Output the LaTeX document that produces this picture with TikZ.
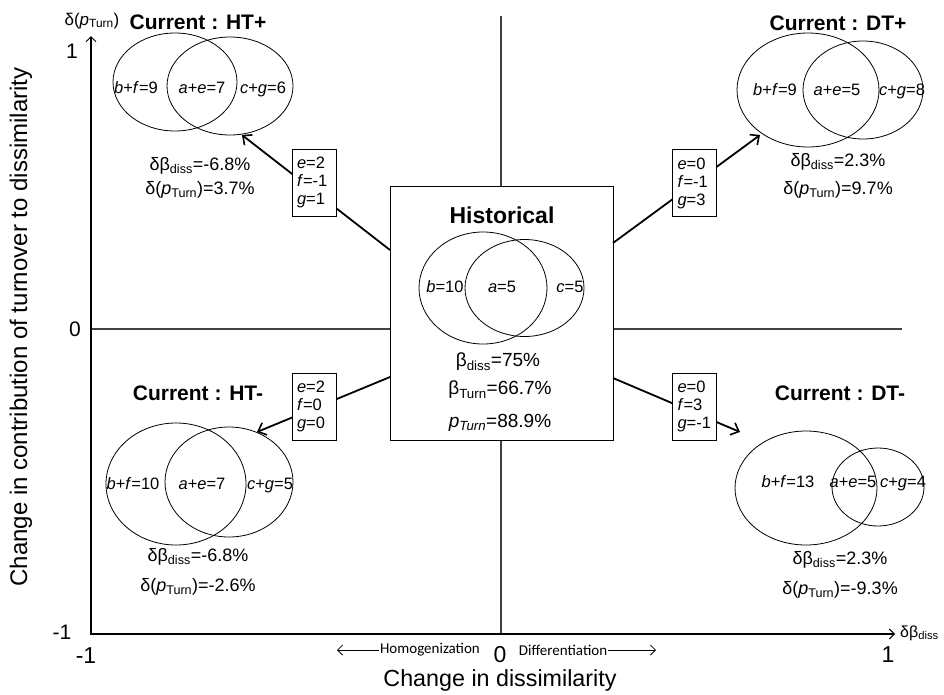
\documentclass[tikz,border=0pt]{standalone}
\usepackage{fontspec}
\setmainfont{Liberation Sans}
\newfontfamily\calib{Carlito}
\usetikzlibrary{shapes.geometric,arrows.meta}
\begin{document}
\begin{tikzpicture}[x=1pt,y=-1pt,
  venn/.style={draw, ellipse, line width=0.8pt, inner sep=0pt},
  vl/.style={font=\fontsize{16.5}{16.5}\selectfont, inner sep=0pt, text height=11.5pt, text depth=3.5pt},
  ttl/.style={font=\fontsize{21}{21}\selectfont\bfseries, inner sep=0pt},
  stat/.style={font=\fontsize{18}{18}\selectfont, inner sep=0pt},
  tick/.style={font=\fontsize{21}{21}\selectfont, inner sep=0pt},
  lbox/.style={draw, fill=white, line width=0.8pt, minimum height=67pt, text width=34pt, inner xsep=5pt, inner ysep=0pt, font=\fontsize{16.5}{18}\selectfont, align=left},
  conn/.style={line width=1.8pt, -{Straight Barb[length=7pt,width=13pt,line width=1.6pt]}},
  axis/.style={line width=1.3pt},
  midl/.style={line width=1.3pt, black!75},
  smallarr/.style={line width=0.8pt, -{Straight Barb[length=5pt,width=10pt,line width=0.8pt]}}
]
\useasboundingbox (0,0) rectangle (944,694);
% mid lines
\coordinate (mL) at (91,329);
\coordinate (mR) at (902,329);
\coordinate (mT) at (501,16);
\coordinate (mB) at (501,634);
\draw[midl] (mL) -- (mR);
\draw[midl] (mT) -- (mB);
% axes
\coordinate (yTop) at (91,36);
\coordinate (orig) at (91,634);
\coordinate (xEnd) at (895,634);
\draw[axis, {Straight Barb[length=5pt,width=10pt,line width=1pt]}-{Straight Barb[length=5pt,width=10pt,line width=1pt]}] (yTop) -- (orig) -- (xEnd);
% axis labels
\node[font=\fontsize{17}{17}\selectfont, inner sep=0pt] (ytitle) at (92,21) {δ(\textit{p}\textsubscript{Turn})};
\node[font=\fontsize{16}{16}\selectfont, inner sep=0pt, anchor=west] (xtitle) at (900,633) {δβ\textsubscript{diss}};
\node[tick] (y1) at (72,51) {1};
\node[tick] (y0) at (75,329) {0};
\node[tick] (ym1) at (62,632) {-1};
\node[tick, font=\fontsize{23}{23}\selectfont] (xm1) at (86,656) {-1};
\node[tick, font=\fontsize{23}{23}\selectfont] (x0) at (500,655) {0};
\node[tick, font=\fontsize{23}{23}\selectfont] (x1) at (888,655) {1};
\node[font=\fontsize{23.3}{23.3}\selectfont, inner sep=0pt] (xlab) at (500,680) {Change in dissimilarity};
\node[font=\fontsize{24}{24}\selectfont, inner sep=0pt, rotate=90] (ylab) at (21,327) {Change in contribution of turnover to dissimilarity};
\node[font=\calib\fontsize{15}{15}\selectfont, inner sep=1pt] (homog) at (430,650) {Homogenization};
\node[font=\calib\fontsize{15}{15}\selectfont, inner sep=1pt] (diff) at (563,650) {Differentiation};
\coordinate (homogEnd) at (337,650);
\coordinate (diffEnd) at (656,650);
\draw[smallarr] (homog) -- (homogEnd);
\draw[smallarr] (diff) -- (diffEnd);
% historical box
\node[draw, fill=white, line width=0.9pt, minimum width=223pt, minimum height=254pt, inner sep=0pt] (hist) at (501.5,313) {};
\node[ttl, font=\fontsize{23}{23}\selectfont\bfseries] (histT) at (502,215) {Historical};
\node[venn, minimum width=128pt, minimum height=112pt] (hL) at (483,288) {};
\node[venn, minimum width=119pt, minimum height=97pt] (hR) at (524.5,288) {};
\node[vl] (hb) at (445,288) {\textit{b}=10};
\node[vl] (ha) at (502,288) {\textit{a}=5};
\node[vl] (hc) at (570,288) {\textit{c}=5};
\node[stat, font=\fontsize{19}{19}\selectfont] (hs1) at (498,362) {β\textsubscript{diss}=75\%};
\node[stat, font=\fontsize{19}{19}\selectfont] (hs2) at (500,390) {β\textsubscript{Turn}=66.7\%};
\node[stat, font=\fontsize{19}{19}\selectfont] (hs3) at (500,423) {\textit{p}\textsubscript{\textit{Turn}}=88.9\%};
% connectors
\coordinate (sHTp) at (390,250);
\coordinate (tHTp) at (242,135);
\coordinate (sDTp) at (613,243);
\coordinate (tDTp) at (760,135);
\coordinate (sHTm) at (390,377);
\coordinate (tHTm) at (257,432);
\coordinate (sDTm) at (613,378);
\coordinate (tDTm) at (740,432);
\draw[conn] (sHTp) -- (tHTp);
\draw[conn] (sDTp) -- (tDTp);
\draw[conn] (sHTm) -- (tHTm);
\draw[conn] (sDTm) -- (tDTm);
\node[lbox] (bHTp) at (314,182.5) {\textit{e}=2\\\textit{f}=-1\\\textit{g}=1};
\node[lbox] (bDTp) at (694.5,183) {\textit{e}=0\\\textit{f}=-1\\\textit{g}=3};
\node[lbox] (bHTm) at (314,406.5) {\textit{e}=2\\\textit{f}=0\\\textit{g}=0};
\node[lbox] (bDTm) at (694.5,406.5) {\textit{e}=0\\\textit{f}=3\\\textit{g}=-1};
% HT+
\node[ttl] (tiHTp) at (198,22) {Current : HT+};
\node[venn, minimum width=124pt, minimum height=98pt] (vHTpL) at (175,82) {};
\node[venn, minimum width=126pt, minimum height=98pt] (vHTpR) at (230,86) {};
\node[vl] (l1HTp) at (136,89) {\textit{b}+\textit{f}=9};
\node[vl] (l2HTp) at (202,89) {\textit{a}+\textit{e}=7};
\node[vl] (l3HTp) at (263,89) {\textit{c}+\textit{g}=6};
\node[stat] (s1HTp) at (200,166) {δβ\textsubscript{diss}=-6.8\%};
\node[stat] (s2HTp) at (200,190) {δ(\textit{p}\textsubscript{Turn})=3.7\%};
% DT+
\node[ttl] (tiDTp) at (838,23) {Current : DT+};
\node[venn, minimum width=142pt, minimum height=114pt] (vDTpL) at (808,90) {};
\node[venn, minimum width=120pt, minimum height=98pt] (vDTpR) at (863,90) {};
\node[vl] (l1DTp) at (775,91) {\textit{b}+\textit{f}=9};
\node[vl] (l2DTp) at (837,91) {\textit{a}+\textit{e}=5};
\node[vl] (l3DTp) at (902,91) {\textit{c}+\textit{g}=8};
\node[stat] (s1DTp) at (838,162) {δβ\textsubscript{diss}=2.3\%};
\node[stat] (s2DTp) at (838,190) {δ(\textit{p}\textsubscript{Turn})=9.7\%};
% HT-
\node[ttl] (tiHTm) at (198,393) {Current : HT-};
\node[venn, minimum width=140pt, minimum height=122pt] (vHTmL) at (176,484) {};
\node[venn, minimum width=128pt, minimum height=110pt] (vHTmR) at (229,482) {};
\node[vl] (l1HTm) at (133,485) {\textit{b}+\textit{f}=10};
\node[vl] (l2HTm) at (202,485) {\textit{a}+\textit{e}=7};
\node[vl] (l3HTm) at (270,485) {\textit{c}+\textit{g}=5};
\node[stat] (s1HTm) at (198,557) {δβ\textsubscript{diss}=-6.8\%};
\node[stat] (s2HTm) at (198,587) {δ(\textit{p}\textsubscript{Turn})=-2.6\%};
% DT-
\node[ttl] (tiDTm) at (840,393) {Current : DT-};
\node[venn, minimum width=142pt, minimum height=114pt] (vDTmL) at (806,488) {};
\node[venn, minimum width=92pt, minimum height=78pt] (vDTmR) at (878,487) {};
\node[vl] (l1DTm) at (788,483) {\textit{b}+\textit{f}=13};
\node[vl] (l2DTm) at (853,483) {\textit{a}+\textit{e}=5};
\node[vl] (l3DTm) at (903,483) {\textit{c}+\textit{g}=4};
\node[stat] (s1DTm) at (840,560) {δβ\textsubscript{diss}=2.3\%};
\node[stat] (s2DTm) at (840,590) {δ(\textit{p}\textsubscript{Turn})=-9.3\%};
\end{tikzpicture}
\end{document}
